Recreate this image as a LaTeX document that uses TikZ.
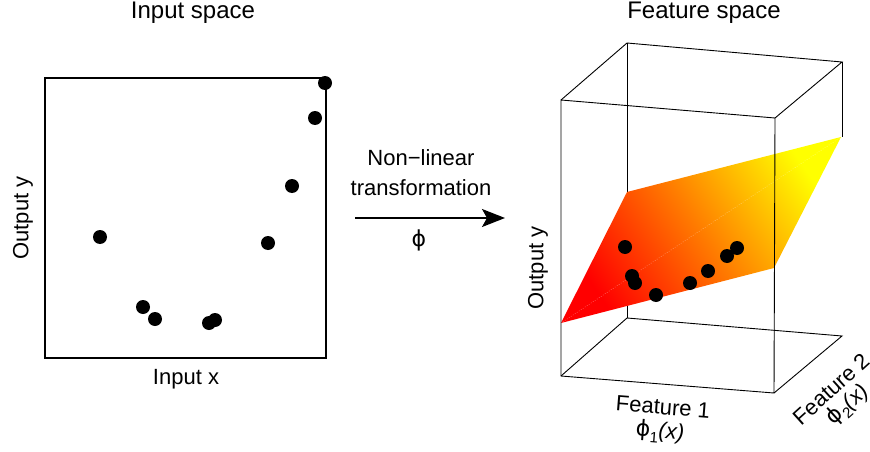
\documentclass[tikz,border=0pt]{standalone}
\usepackage{fontspec}
\setmainfont{Liberation Sans}
\newfontfamily\phifont{DejaVu Sans}
\usetikzlibrary{arrows.meta}
\newcommand{\phisym}{{\phifont ϕ}}
\begin{document}
\begin{tikzpicture}[x=1pt, y=-1pt,
  dot/.style={circle, fill=black, inner sep=0pt, minimum size=14pt},
  lbl/.style={font=\fontsize{22}{26}\selectfont},
  ttl/.style={font=\fontsize{24}{28}\selectfont},
  frame/.style={line width=0.9pt}]
  \useasboundingbox (0,0) rectangle (870,452);
  \draw[line width=1.3pt] (45,78) rectangle (326,358);
  \node[ttl] (intitle) at (193,13) {Input space};
  \node[lbl] (inx) at (186,379) {Input x};
  \node[lbl, rotate=90] (iny) at (23,218) {Output y};
  \foreach \x/\y [count=\i] in {325/83, 315/118, 292/186, 268/243, 100/237, 143/307, 155/319, 209/323, 215/320}
    \node[dot] (a\i) at (\x,\y) {};
  \coordinate (arrstart) at (355,218);
  \coordinate (arrend) at (505,218);
  \draw[line width=1.3pt, -{Stealth[length=23pt, width=18pt, inset=5pt]}] (arrstart) -- (arrend);
  \node[lbl] (nonlin) at (421,158) {Non\textminus linear};
  \node[lbl] (transf) at (421,188) {transformation};
  \node[lbl] (phi) at (419,240) {\phisym};
  \node[ttl] (fttitle) at (704,13) {Feature space};
  \coordinate (ftl) at (561,100);
  \coordinate (ftr) at (775,118);
  \coordinate (fbl) at (561,376);
  \coordinate (fbr) at (774,393);
  \coordinate (btl) at (627,43);
  \coordinate (btr) at (842,62);
  \coordinate (bbl) at (627,318);
  \coordinate (bbr) at (842,336);
  \coordinate (pl) at (561,323);
  \coordinate (pt) at (627,192);
  \coordinate (pr) at (841,137);
  \coordinate (pb) at (774,268);
  \draw[frame] (btl) -- (bbl);
  \shade[bottom color=red, top color=yellow, middle color={rgb,255:red,255;green,125;blue,0}, shading angle=-56] (pl) -- (pt) -- (pr) -- (pb) -- cycle;
  \draw[white, line width=0.4pt, dotted] (pl) -- (pr);
  \draw[frame] (ftl) -- (btl) -- (btr) -- (ftr);
  \draw[frame] (btr) -- (btr |- pr);
  \draw[frame] (ftl) -- (ftr) -- (fbr) -- (fbl) -- cycle;
  \draw[frame] (fbl) -- (bbl) -- (bbr) -- (fbr);
  \foreach \x/\y [count=\i] in {625/247, 632/276, 635/283, 656/295, 690/283, 708/271, 727/256, 737/248}
    \node[dot] (b\i) at (\x,\y) {};
  \node[lbl, rotate=90] (fty) at (538,268) {Output y};
  \node[lbl, rotate=-4.5] (ft1) at (663,407) {Feature 1};
  \node[lbl, rotate=-4.5] (phi1) at (660,432) {\phisym\raisebox{-5pt}{\fontsize{15}{18}\selectfont 1}\textit{(x)}};
  \node[lbl, rotate=42] (ft2) at (831,389) {Feature 2};
  \node[lbl, rotate=42] (phi2) at (848,405) {\phisym\raisebox{-5pt}{\fontsize{15}{18}\selectfont 2}\textit{(x)}};
\end{tikzpicture}
\end{document}
